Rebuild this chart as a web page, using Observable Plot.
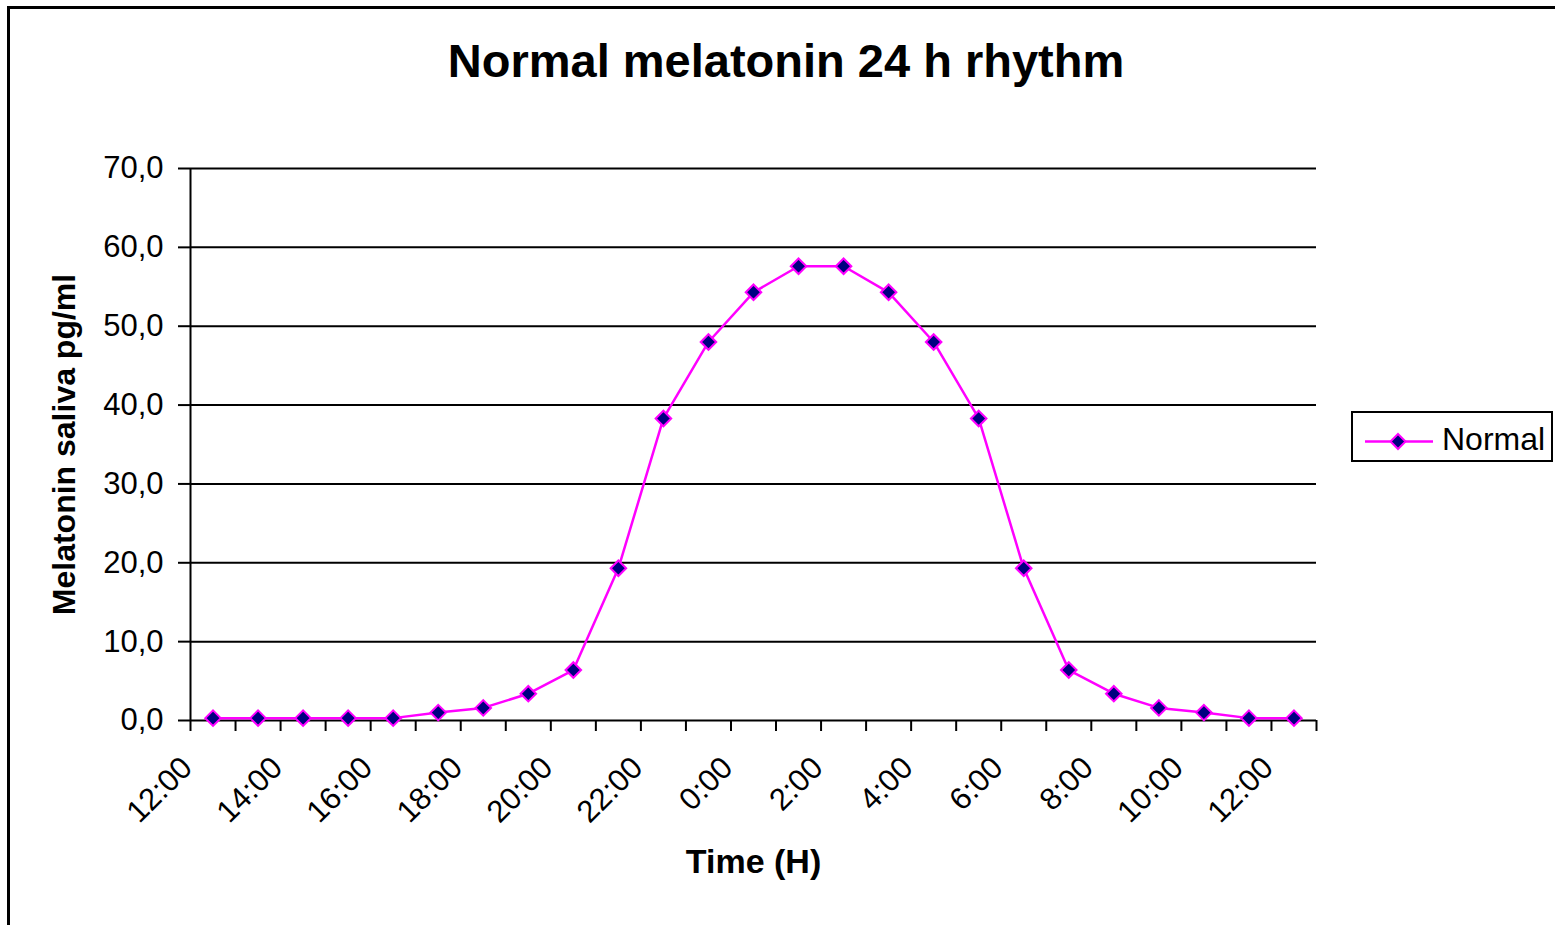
<!DOCTYPE html>
<html>
<head>
<meta charset="utf-8">
<script src="https://cdn.jsdelivr.net/npm/d3@7"></script>
<script src="https://cdn.jsdelivr.net/npm/@observablehq/plot@0.6"></script>
<style>
  html, body { margin: 0; padding: 0; background: #fff; }
  body { width: 1555px; height: 925px; position: relative; overflow: hidden; font-family: "Liberation Sans", Arial, sans-serif; }
  #frame { position: absolute; left: 7px; top: 6px; width: 1600px; height: 960px; border-top: 3px solid #000; border-left: 3px solid #000; box-sizing: border-box; }
  #title { position: absolute; left: 10px; top: 37px; width: 1552px; text-align: center; font-size: 47px; font-weight: bold; line-height: 47px; color: #000; }
  #chart { position: absolute; left: 0; top: 100px; }
  #legend { position: absolute; left: 1351px; top: 411px; width: 202px; height: 51px; box-sizing: border-box; border: 2px solid #000; background: #fff; }
  #legend svg { position: absolute; left: 0; top: 0; }
  #legend span { position: absolute; left: 89px; top: 10px; font-size: 32px; line-height: 32px; color: #000; }
</style>
</head>
<body>
<div id="frame"></div>
<div id="title">Normal melatonin 24 h rhythm</div>
<div id="chart"></div>
<div id="legend">
  <svg width="198" height="47">
    <line x1="12" x2="80" y1="28.5" y2="28.5" stroke="#ff00ff" stroke-width="2.5"></line>
    <path d="M45,21L52.5,28.5L45,36L37.5,28.5Z" fill="#000080" stroke="#ff00ff" stroke-width="2"></path>
  </svg>
  <span>Normal</span>
</div>
<script>
// Categories (hours), 12:00 through next day's 12:00
const hours = ["12:00","13:00","14:00","15:00","16:00","17:00","18:00","19:00","20:00","21:00","22:00","23:00",
               "0:00","1:00","2:00","3:00","4:00","5:00","6:00","7:00","8:00","9:00","10:00","11:00","12:00"];
// Series "Normal": melatonin in saliva, pg/ml
const normal = [0.3, 0.3, 0.3, 0.3, 0.3, 1.0, 1.6, 3.4, 6.4, 19.3, 38.3, 48.0, 54.3, 57.6,
                57.6, 54.3, 48.0, 38.3, 19.3, 6.4, 3.4, 1.6, 1.0, 0.3, 0.3];
// Y ticks
const yTicks = [0, 10, 20, 30, 40, 50, 60, 70];
// Every other category is labelled
const labelIdx = hours.map((h, i) => i).filter(i => i % 2 === 0);

const data = hours.map((h, i) => ({i, hour: h, value: normal[i]}));
const boundaries = d3.range(hours.length + 1);
const fmt = d => d.toFixed(1).replace(".", ",");

const chart = Plot.plot({
  width: 1555,
  height: 825,
  marginTop: 68,
  marginBottom: 205,
  marginLeft: 190,
  marginRight: 239,
  style: {fontFamily: "'Liberation Sans', Arial, sans-serif", color: "#000", background: "transparent"},
  x: {domain: [0, hours.length]},
  y: {domain: [0, 70]},
  marks: [
    Plot.gridY(yTicks.filter(t => t > 0), {stroke: "#000", strokeOpacity: 1, strokeWidth: 2}),
    Plot.axisY({ticks: yTicks, tickSize: 12, tickPadding: 15, tickFormat: fmt, fontSize: 31, strokeWidth: 2, label: null}),
    Plot.axisX({ticks: boundaries, tickSize: 11, tickFormat: () => "", strokeWidth: 2, label: null}),
    Plot.ruleY([0], {stroke: "#000", strokeWidth: 2}),
    Plot.ruleX([0], {stroke: "#000", strokeWidth: 2}),
    Plot.text(labelIdx, {x: i => i + 0.5, text: i => hours[i], frameAnchor: "bottom", rotate: -45,
      textAnchor: "end", lineAnchor: "middle", dx: -26, dy: 42, fontSize: 31, fill: "#000"}),
    Plot.line(data, {x: d => d.i + 0.5, y: "value", stroke: "#ff00ff", strokeWidth: 2.5}),
    Plot.dot(data, {x: d => d.i + 0.5, y: "value", symbol: "diamond2", r: 7, fill: "#000080", stroke: "#ff00ff", strokeWidth: 2}),
    Plot.text(["Melatonin saliva pg/ml"], {frameAnchor: "left", textAnchor: "middle", rotate: -90, dx: -126, fontSize: 32, fontWeight: "bold", fill: "#000"}),
    Plot.text(["Time (H)"], {frameAnchor: "bottom", dy: 152, fontSize: 34, fontWeight: "bold", fill: "#000"})
  ]
});
document.getElementById("chart").appendChild(chart);
</script>
</body>
</html>
